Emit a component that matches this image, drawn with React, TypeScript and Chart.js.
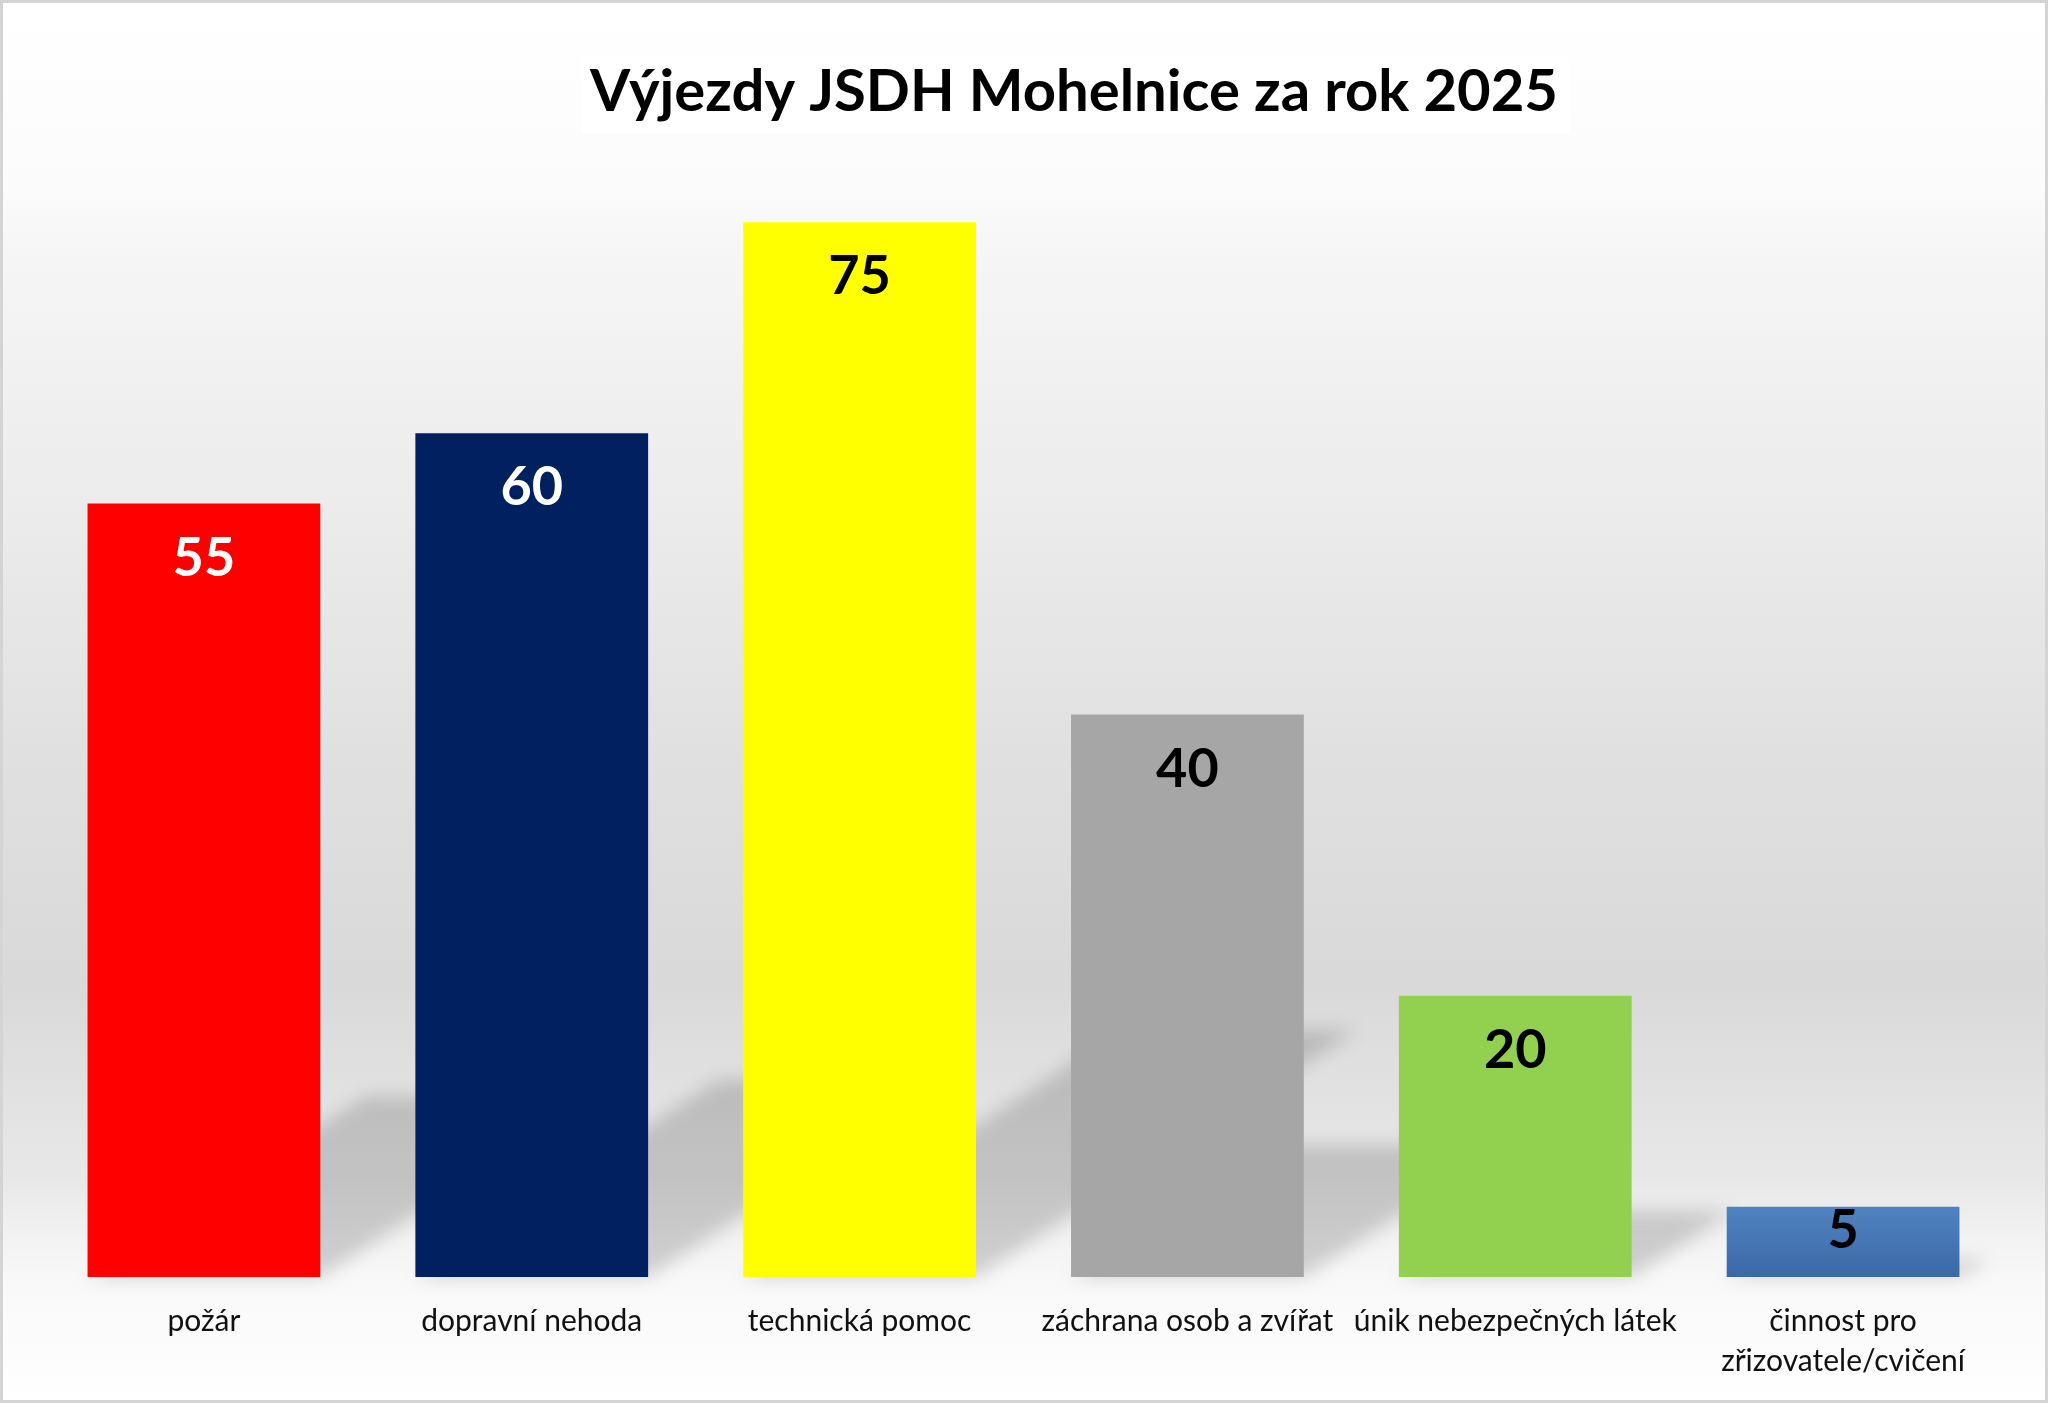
import { useEffect, useRef } from 'react';
import {
  Chart, BarController, BarElement, CategoryScale, LinearScale,
} from 'chart.js';

Chart.register(BarController, BarElement, CategoryScale, LinearScale);

const TITLE = 'Výjezdy JSDH Mohelnice za rok 2025';
const categories = [
  'požár',
  'dopravní nehoda',
  'technická pomoc',
  'záchrana osob a zvířat',
  'únik nebezpečných látek',
  ['činnost pro', 'zřizovatele/cvičení'],
];
const counts = [55, 60, 75, 40, 20, 5];
const barColors = ['#ff0000', '#002060', '#ffff00', '#a6a6a6', '#92d050', '#4f81bd'];
const labelColors = ['#ffffff', '#ffffff', '#000000', '#000000', '#000000', '#000000'];
const Y_MAX = 80;

const FONT = 'Lato, "Open Sans", sans-serif';

// page background, frame and title
const backdrop = {
  id: 'backdrop',
  beforeDraw(chart: Chart) {
    const { ctx, width, height } = chart;
    ctx.save();
    const g = ctx.createLinearGradient(0, 0, 0, height);
    g.addColorStop(0, '#ffffff');
    g.addColorStop(0.12, '#fcfcfc');
    g.addColorStop(0.19, '#f5f5f5');
    g.addColorStop(0.37, '#ebebeb');
    g.addColorStop(0.56, '#dfdfdf');
    g.addColorStop(0.7, '#d9d9d9');
    g.addColorStop(0.84, '#e8e8e8');
    g.addColorStop(0.91, '#f8f8f8');
    g.addColorStop(1, '#ffffff');
    ctx.fillStyle = g;
    ctx.fillRect(0, 0, width, height);
    ctx.strokeStyle = '#d4d4d4';
    ctx.lineWidth = 3;
    ctx.strokeRect(1.5, 1.5, width - 3, height - 3);

    ctx.fillStyle = '#ffffff';
    ctx.fillRect(581, 57, 989, 76);
    ctx.fillStyle = '#000000';
    ctx.font = `bold 58px ${FONT}`;
    ctx.textAlign = 'center';
    ctx.textBaseline = 'alphabetic';
    ctx.fillText(TITLE, 1074, 111);
    ctx.restore();
  },
};

// soft perspective shadows falling up and to the right of each bar
const barShadows = {
  id: 'barShadows',
  beforeDatasetsDraw(chart: Chart) {
    const { ctx } = chart;
    const meta = chart.getDatasetMeta(0);
    ctx.save();
    ctx.filter = 'blur(9px)';
    ctx.fillStyle = 'rgba(0, 0, 0, 0.16)';
    meta.data.forEach((el: any) => {
      const { x, y, base, width } = el.getProps(['x', 'y', 'base', 'width'], true);
      const h = base - y;
      const dx = Math.max(h * 0.36, 30);
      const dy = Math.max(h * 0.234, 14);
      const x0 = x - width / 2;
      const x1 = x + width / 2;
      ctx.beginPath();
      ctx.moveTo(x0, base);
      ctx.lineTo(x1, base);
      ctx.lineTo(x1 + dx, base - dy);
      ctx.lineTo(x0 + dx, base - dy);
      ctx.closePath();
      ctx.fill();
    });
    ctx.restore();
  },
};

// values written inside the top of each bar
const valueLabels = {
  id: 'valueLabels',
  afterDatasetsDraw(chart: Chart) {
    const { ctx } = chart;
    const meta = chart.getDatasetMeta(0);
    ctx.save();
    ctx.font = `bold 54px ${FONT}`;
    ctx.textAlign = 'center';
    ctx.textBaseline = 'alphabetic';
    meta.data.forEach((el: any, i: number) => {
      const { x, y, base } = el.getProps(['x', 'y', 'base'], true);
      ctx.fillStyle = labelColors[i];
      ctx.fillText(String(counts[i]), x, Math.min(y + 72, base - 29));
    });
    ctx.restore();
  },
};

export default function App() {
  const canvasRef = useRef<HTMLCanvasElement>(null);

  useEffect(() => {
    document.body.style.margin = '0';
    if (!canvasRef.current) return;

    const chart = new Chart(canvasRef.current, {
      type: 'bar',
      data: {
        labels: categories,
        datasets: [{
          data: counts,
          backgroundColor: (c: any) => {
            const i = c.dataIndex;
            if (i !== 5) return barColors[i];
            const yScale = c.chart.scales?.y;
            if (!yScale || !c.chart.chartArea) return barColors[i];
            const top = yScale.getPixelForValue(counts[i]);
            const bottom = yScale.getPixelForValue(0);
            const g = c.chart.ctx.createLinearGradient(0, top, 0, bottom);
            g.addColorStop(0, '#5083c1');
            g.addColorStop(1, '#3b68a5');
            return g;
          },
          borderWidth: 0,
          barPercentage: 0.71,
          categoryPercentage: 1,
        }],
      },
      options: {
        responsive: true,
        maintainAspectRatio: false,
        animation: false,
        layout: { padding: { left: 40, right: 41, top: 152, bottom: 0 } },
        plugins: {
          legend: { display: false },
          tooltip: { enabled: false },
        },
        scales: {
          x: {
            grid: { display: false },
            border: { display: false },
            ticks: {
              color: '#111111',
              padding: 16,
              font: { family: FONT, size: 30, lineHeight: 40 / 30 },
              maxRotation: 0,
              autoSkip: false,
            },
            afterFit: (s: any) => { s.height = 126; },
          },
          y: {
            display: false,
            min: 0,
            max: Y_MAX,
          },
        },
      },
      plugins: [backdrop, barShadows, valueLabels],
    });

    return () => { chart.destroy(); };
  }, []);

  return (
    <div style={{ position: 'absolute', left: 0, top: 0, width: 2048, height: 1403 }}>
      <canvas ref={canvasRef} />
    </div>
  );
}
